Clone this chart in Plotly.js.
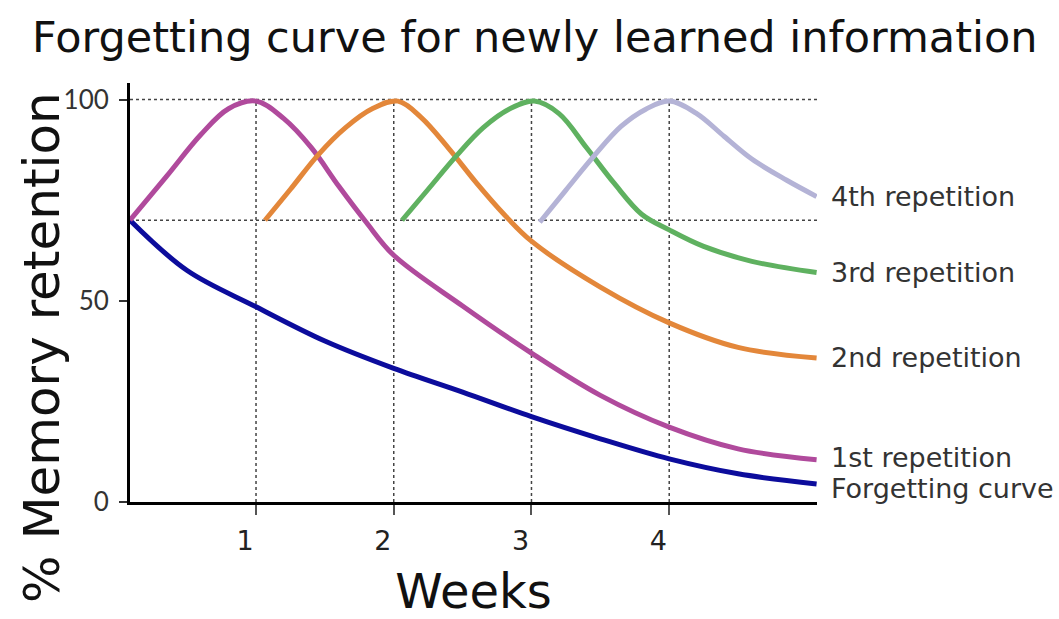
<!DOCTYPE html>
<html>
<head>
<meta charset="utf-8">
<script src="https://cdn.plot.ly/plotly-3.0.1.min.js"></script>
<style>html,body{margin:0;padding:0;background:#fff;}#chart{width:1059px;height:619px;}</style>
</head>
<body>
<div id="chart"></div>
<script>
// Data
const seriesNames = ["Forgetting curve", "1st repetition", "2nd repetition", "3rd repetition", "4th repetition"];
const forgetX = [0.085, 0.5, 1.0, 1.5, 2.0, 2.5, 3.0, 3.5, 4.0, 4.5, 5.07];
const forgetY = [70, 57.5, 48.5, 40, 33.2, 27.3, 21.2, 15.7, 10.7, 7.0, 4.5];
const rep1X = [0.085, 0.35, 0.6, 0.8, 1.0, 1.2, 1.4, 1.6, 1.8, 2.0, 2.5, 3.0, 3.5, 4.0, 4.5, 5.07];
const rep1Y = [70, 80.9, 91.3, 97.7, 99.6, 95.3, 88.1, 78.5, 69.5, 61.3, 48.7, 37, 26.5, 18.6, 13.2, 10.5];
const rep2X = [1.065, 1.25, 1.45, 1.65, 1.85, 2.03, 2.2, 2.4, 2.6, 2.8, 3.0, 3.5, 4.0, 4.5, 5.07];
const rep2Y = [70, 77.7, 86.2, 93, 97.8, 99.6, 95.5, 87.8, 79.3, 71.5, 64.8, 53.4, 44.5, 38.4, 35.8];
const rep3X = [2.06, 2.25, 2.45, 2.65, 2.85, 3.02, 3.2, 3.4, 3.6, 3.8, 4.0, 4.25, 4.6, 5.07];
const rep3Y = [70, 77.7, 85.8, 93, 97.8, 99.6, 96.5, 88, 79.2, 71.5, 67.6, 63.5, 59.8, 57];
const rep4X = [3.06, 3.25, 3.45, 3.65, 3.83, 4.0, 4.2, 4.4, 4.6, 4.85, 5.07];
const rep4Y = [69.5, 77.5, 85.8, 93.3, 97.6, 99.6, 96.5, 90.8, 85.2, 80, 75.9];
const xTicks = [1, 2, 3, 4];
const yTicks = [0, 50, 100];
const refLevels = [70, 100];

const colors = ["#0c0c9c", "#b04a9c", "#e3873a", "#5fb160", "#b4b3d6"];
const xs = [forgetX, rep1X, rep2X, rep3X, rep4X];
const ys = [forgetY, rep1Y, rep2Y, rep3Y, rep4Y];

const xMin = 0.085, xMax = 5.073;
const traces = xs.map((x, i) => ({
  x: x, y: ys[i], type: "scatter", mode: "lines", name: seriesNames[i],
  line: {color: colors[i], width: 5, shape: "spline", smoothing: 1},
  hoverinfo: "x+y+name", cliponaxis: false
}));

const dotLine = {color: "#444", width: 1.5, dash: "dot"};
const shapes = [];
refLevels.forEach(v => shapes.push({type: "line", xref: "x", yref: "y", x0: xMin, x1: xMax, y0: v, y1: v, line: dotLine, layer: "below"}));
xTicks.forEach(v => shapes.push({type: "line", xref: "x", yref: "y", x0: v, x1: v, y0: 0, y1: 100, line: dotLine, layer: "below"}));

const labelFont = {family: "DejaVu Sans", size: 27, color: "#333"};
const annotations = xs.map((x, i) => ({
  x: x[x.length - 1], y: ys[i][ys[i].length - 1], xref: "x", yref: "y",
  text: seriesNames[i], showarrow: false, xanchor: "left", yanchor: "middle",
  xshift: 12, yshift: i === 0 ? -5 : (i === 1 ? 2 : 0), font: labelFont
}));
// y-axis title, placed like the reference (below plot centre)
annotations.push({
  x: 42, y: 348, xref: "paper", yref: "paper", text: "% Memory retention", showarrow: false,
  textangle: -90, xanchor: "center", yanchor: "middle",
  font: {family: "DejaVu Sans", size: 50, color: "#111"}
});

const layout = {
  width: 1059, height: 619,
  margin: {l: 130, r: 242, t: 83, b: 117},
  paper_bgcolor: "#fff", plot_bgcolor: "#fff",
  showlegend: false,
  title: {text: "Forgetting curve for newly learned information", x: 0.505, xanchor: "center", y: 0.94, yanchor: "middle",
          font: {family: "DejaVu Sans", size: 43, color: "#111"}},
  xaxis: {
    range: [xMin, xMax], tickvals: xTicks, ticktext: xTicks.map(String),
    showgrid: false, zeroline: false, showline: true, linecolor: "#000", linewidth: 3,
    ticks: "outside", ticklen: 10, tickwidth: 1.5, tickcolor: "#555",
    ticklabelshift: -11, ticklabelstandoff: 3,
    tickfont: {family: "DejaVu Sans", size: 27, color: "#222"},
    title: {text: "Weeks", font: {family: "DejaVu Sans", size: 48, color: "#111"}, standoff: 28},
    fixedrange: true
  },
  yaxis: {
    range: [0, 104.1], tickvals: yTicks, ticktext: yTicks.map(String),
    showgrid: false, zeroline: false, showline: true, linecolor: "#000", linewidth: 3,
    ticks: "outside", ticklen: 8, tickwidth: 1.5, tickcolor: "#333",
    ticklabelstandoff: 5,
    tickfont: {family: "Lato", size: 26, color: "#333"},
    fixedrange: true
  },
  shapes: shapes,
  annotations: annotations
};

// convert the y-title's pixel position to paper coordinates
const pw = 1059 - 130 - 242, ph = 619 - 83 - 117;
const yt = annotations[annotations.length - 1];
yt.x = (yt.x - 130) / pw;
yt.y = (619 - 117 - yt.y) / ph;

Plotly.newPlot("chart", traces, layout, {displayModeBar: false});
</script>
</body>
</html>
